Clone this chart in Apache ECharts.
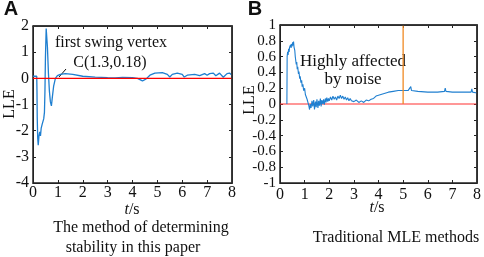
<!DOCTYPE html>
<html><head><meta charset="utf-8">
<script src="https://cdn.jsdelivr.net/npm/echarts@6/dist/echarts.min.js"></script>
<style>html,body{margin:0;padding:0;background:#fff}#c{width:484px;height:257px}</style>
</head><body><div id="c"></div>
<script>
// Panel A: LLE (method of this paper)
const seriesA = [[0,0.08],[0.15,0.08],[0.16,-0.5],[0.17,-1.5],[0.19,-2.3],[0.21,-2.56],[0.24,-2.2],[0.27,-2.05],[0.3,-2.2],[0.33,-1.9],[0.37,-1.75],[0.4,-1.8],[0.43,-1.55],[0.46,-1.3],[0.48,-0.5],[0.5,0.8],[0.53,1.9],[0.56,1.95],[0.58,1.2],[0.62,0.2],[0.66,-0.5],[0.7,-0.9],[0.74,-1.05],[0.78,-0.7],[0.83,-0.3],[0.9,0.0],[0.98,0.1],[1.1,0.15],[1.3,0.18],[1.6,0.15],[2.0,0.08],[2.5,0.05],[3.0,0.03],[3.3,0.02],[3.6,0.04],[4.0,0.03],[4.2,0.0],[4.4,-0.1],[4.55,-0.02],[4.7,0.12],[4.9,0.2],[5.2,0.22],[5.4,0.15],[5.5,0.05],[5.6,0.15],[5.8,0.2],[6.0,0.15],[6.08,0.05],[6.2,0.12],[6.5,0.15],[6.7,0.1],[6.9,0.18],[7.0,0.12],[7.1,0.18],[7.25,0.2],[7.35,0.1],[7.5,0.2],[7.65,0.04],[7.8,0.18],[7.9,0.2],[8,0.12]];
// Panel B: traditional MLE
const seriesB = [[0.28,0],[0.29,0.6],[0.31,0.66],[0.33,0.62],[0.35,0.7],[0.37,0.66],[0.39,0.72],[0.41,0.7],[0.43,0.75],[0.45,0.71],[0.47,0.76],[0.49,0.73],[0.51,0.78],[0.53,0.74],[0.55,0.79],[0.57,0.72],[0.6,0.68],[0.62,0.6],[0.64,0.62],[0.66,0.5],[0.68,0.53],[0.7,0.44],[0.72,0.47],[0.75,0.38],[0.77,0.41],[0.8,0.32],[0.82,0.35],[0.85,0.27],[0.88,0.3],[0.9,0.22],[0.93,0.25],[0.96,0.17],[1.0,0.2],[1.03,0.12],[1.07,0.14],[1.1,0.06],[1.13,0.08],[1.17,-0.02],[1.2,-0.07],[1.23,0.0],[1.26,-0.05],[1.3,0.04],[1.33,-0.03],[1.37,0.05],[1.4,-0.07],[1.44,0.03],[1.47,-0.04],[1.5,0.06],[1.54,-0.05],[1.57,0.04],[1.6,-0.02],[1.64,0.07],[1.67,-0.03],[1.7,0.05],[1.74,0.0],[1.77,0.06],[1.8,-0.01],[1.84,0.07],[1.87,0.02],[1.9,0.08],[1.94,0.03],[1.97,0.07],[2.0,0.04],[2.05,0.09],[2.1,0.05],[2.15,0.1],[2.2,0.06],[2.25,0.09],[2.3,0.05],[2.35,0.1],[2.4,0.07],[2.45,0.11],[2.5,0.07],[2.55,0.1],[2.6,0.06],[2.65,0.09],[2.7,0.05],[2.75,0.08],[2.8,0.04],[2.85,0.07],[2.9,0.04],[2.95,0.06],[3.0,0.03],[3.1,0.05],[3.2,0.02],[3.3,0.04],[3.4,0.02],[3.5,0.05],[3.6,0.04],[3.7,0.06],[3.8,0.07],[3.9,0.1],[4.0,0.11],[4.2,0.13],[4.4,0.15],[4.6,0.16],[4.8,0.17],[5.0,0.17],[5.2,0.17],[5.28,0.17],[5.31,0.22],[5.34,0.17],[5.6,0.16],[6.0,0.15],[6.4,0.15],[6.68,0.16],[6.71,0.2],[6.74,0.16],[7.0,0.15],[7.4,0.15],[7.76,0.15],[7.79,0.19],[7.82,0.15],[8.0,0.14]];
const zeroLine = [[0,0],[8,0]];
const markerB = [[5,0],[5,1]];
const xTicks = [0,8,1];
const yTicksA = [-4,2,1];
const yTicksB = [-1,1,0.2];

const FONT = '"Liberation Serif", "Times New Roman", serif';
const chart = echarts.init(document.getElementById('c'), null, {renderer:'canvas'});
function common(){
  return {
    axisLine:{show:true, onZero:false, lineStyle:{color:'#222', width:1}},
    axisTick:{show:true, inside:true, length:3, lineStyle:{color:'#222'}},
    splitLine:{show:false}
  };
}
function xAx(grid, pos, showLabel, margin){
  return Object.assign(common(), {type:'value', gridIndex:grid, position:pos, min:xTicks[0], max:xTicks[1], interval:xTicks[2],
    axisLabel:{show:showLabel, color:'#111', fontFamily:FONT, fontSize:16, lineHeight:12, margin:margin}});
}
function yAx(grid, pos, t, showLabel, fs){
  return Object.assign(common(), {type:'value', gridIndex:grid, position:pos, min:t[0], max:t[1], interval:t[2],
    axisLabel:{show:showLabel, showMinLabel:true, showMaxLabel:true,
      color:'#111', fontFamily:FONT, fontSize:fs, lineHeight:8, margin:4,
      formatter: v => (Math.abs(v) < 1e-9 ? '0' : String(Math.round(v*10)/10))}});
}
// plot frame (top and right edges) built from the axis ranges
const frameA = [[xTicks[0],yTicksA[1]],[xTicks[1],yTicksA[1]],[xTicks[1],yTicksA[0]]];
const frameB = [[xTicks[0],yTicksB[1]],[xTicks[1],yTicksB[1]],[xTicks[1],yTicksB[0]]];
const txt = (x,y,text,fs,extra) => Object.assign({type:'text', x:x, y:y, style:Object.assign({text:text, font:fs+'px '+FONT, fill:'#111', textAlign:'center', textVerticalAlign:'middle'}, extra||{})});
chart.setOption({
  animation:false,
  grid:[{left:33, right:252, top:26, bottom:74, show:true, borderColor:'#222', borderWidth:1.5},
        {left:280, right:4, top:25, bottom:74, show:true, borderColor:'#222', borderWidth:1.5}],
  xAxis:[xAx(0,'bottom',true,4), xAx(0,'top',false,3), xAx(1,'bottom',true,6), xAx(1,'top',false,3)],
  yAxis:[yAx(0,'left',yTicksA,true,16), yAx(0,'right',yTicksA,false,16), yAx(1,'left',yTicksB,true,15), yAx(1,'right',yTicksB,false,15)],
  series:[
    {type:'line', xAxisIndex:0, yAxisIndex:0, data:frameA, symbol:'none', clip:false, silent:true, z:10, lineStyle:{color:'#333', width:1.5}},
    {type:'line', xAxisIndex:2, yAxisIndex:2, data:frameB, symbol:'none', clip:false, silent:true, z:10, lineStyle:{color:'#333', width:1.5}},
    {type:'line', xAxisIndex:0, yAxisIndex:0, data:seriesA, symbol:'none', lineStyle:{color:'#1f7fd0', width:1.3}},
    {type:'line', xAxisIndex:1, yAxisIndex:1, data:zeroLine, symbol:'none', lineStyle:{color:'#ff0000', width:1.2}},
    {type:'line', xAxisIndex:3, yAxisIndex:3, data:zeroLine, symbol:'none', lineStyle:{color:'#ff3030', width:1.2}},
    {type:'line', xAxisIndex:2, yAxisIndex:2, data:seriesB, symbol:'none', lineStyle:{color:'#1f7fd0', width:1.1}},
    {type:'line', xAxisIndex:3, yAxisIndex:3, data:markerB, symbol:'none', lineStyle:{color:'#f08a24', width:1.3}}
  ],
  graphic:[
    txt(11,9,'A',20,{font:'bold 20px "Liberation Sans", Arial, sans-serif'}),
    txt(255,9,'B',20,{font:'bold 20px "Liberation Sans", Arial, sans-serif'}),
    {type:'text', x:10, y:104, rotation:Math.PI/2, style:{text:'LLE', font:'16px '+FONT, fill:'#111', textAlign:'center', textVerticalAlign:'middle'}},
    {type:'text', x:250, y:100, rotation:Math.PI/2, style:{text:'LLE', font:'16px '+FONT, fill:'#111', textAlign:'center', textVerticalAlign:'middle'}},
    {type:'text', x:132, y:210, style:{rich:{i:{fontStyle:'italic', fontFamily:FONT, fontSize:16, fill:'#111'}, n:{fontFamily:FONT, fontSize:16, fill:'#111'}}, text:'{i|t}{n|/s}', textAlign:'center', textVerticalAlign:'middle'}},
    {type:'text', x:377, y:208, style:{rich:{i:{fontStyle:'italic', fontFamily:FONT, fontSize:16, fill:'#111'}, n:{fontFamily:FONT, fontSize:16, fill:'#111'}}, text:'{i|t}{n|/s}', textAlign:'center', textVerticalAlign:'middle'}},
    txt(141,228,'The method of determining',16),
    txt(133,248,'stability in this paper',16),
    txt(396,238,'Traditional MLE methods',16),
    txt(111,43,'first swing vertex',16),
    txt(110,63,'C(1.3,0.18)',16),
    {type:'line', shape:{x1:66, y1:69, x2:59, y2:77}, style:{stroke:'#111', lineWidth:1}},
    txt(353,62,'Highly affected',17),
    txt(353,80,'by noise',17)
  ]
});
</script></body></html>
